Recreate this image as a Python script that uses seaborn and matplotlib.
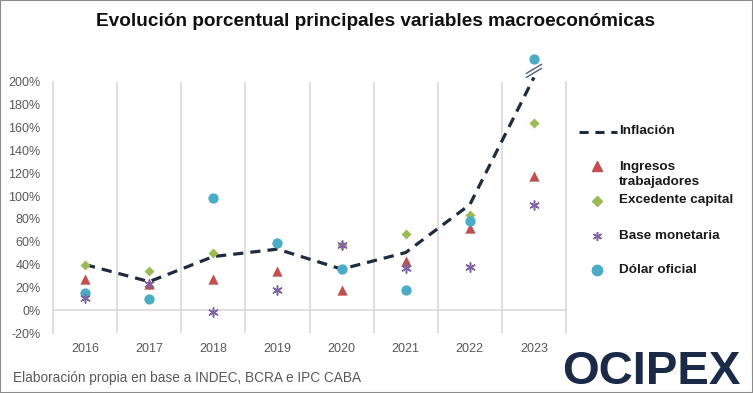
import matplotlib
matplotlib.use("Agg")
import matplotlib.pyplot as plt
import seaborn as sns
import pandas as pd
from matplotlib.lines import Line2D
from matplotlib.patches import Rectangle

years = ["2016", "2017", "2018", "2019", "2020", "2021", "2022", "2023"]
inflacion = [40, 25, 47, 53.5, 36, 50.5, 92.5, 204]
ingresos = [27, 23, 27, 34, 18, 43, 72, 117.5]
excedente = [40, 34, 50.5, 59, 57, 67, 83, 164.5]
base_monetaria = [11, 23, -2, 18, 57, 37, 38, 92.5]
dolar_oficial = [15, 10, 98, 59, 36.5, 18, 78, 220]
y_ticks = [-20, 0, 20, 40, 60, 80, 100, 120, 140, 160, 180, 200]

title = "Evolución porcentual principales variables macroeconómicas"
source = "Elaboración propia en base a INDEC, BCRA e IPC CABA"
legend_labels = ["Inflación", "Ingresos\ntrabajadores", "Excedente capital",
                 "Base monetaria", "Dólar oficial"]

sns.set_style("white")
plt.rcParams["font.family"] = ["Liberation Sans", "DejaVu Sans"]

C_INF = "#1f2b3e"
C_ING = "#c0504d"
C_EXC = "#9bbb59"
C_BAS = "#8064a2"
C_DOL = "#4bacc6"
GRID = "#dcdcdc"
TXT = "#595959"

pos = list(range(len(years)))
df = pd.DataFrame({
    "pos": pos,
    "inflacion": inflacion,
    "ingresos": ingresos,
    "excedente": excedente,
    "base": base_monetaria,
    "dolar": dolar_oficial,
})

W, H = 753, 393
fig = plt.figure(figsize=(W / 100, H / 100), dpi=100)
ax = fig.add_axes([53 / W, 1 - 333 / H, (566 - 53) / W, (333 - 82) / H])

ax.set_xlim(-0.5, len(years) - 0.5)
ax.set_ylim(-20, 200)

# vertical category gridlines
ax.set_xticks([p + 0.5 for p in pos[:-1]], minor=True)
ax.grid(which="minor", axis="x", color=GRID, lw=1.3)
ax.axhline(0, color=GRID, lw=1.3, zorder=1)
for s in ["top", "bottom"]:
    ax.spines[s].set_visible(False)
for s in ["left", "right"]:
    ax.spines[s].set_color(GRID)
    ax.spines[s].set_linewidth(1.3)

sns.lineplot(data=df, x="pos", y="inflacion", ax=ax, color=C_INF, lw=2.3,
             legend=False, zorder=3, clip_on=False)
ax.lines[-1].set_dashes([3.2, 2.2])

kw = dict(ax=ax, legend=False, zorder=4, clip_on=False, linewidth=0)
sns.scatterplot(data=df, x="pos", y="ingresos", marker="^", s=55, color=C_ING, **kw)
sns.scatterplot(data=df, x="pos", y="excedente", marker="D", s=26, color=C_EXC, **kw)
sns.scatterplot(data=df, x="pos", y="base", marker=(6, 2, 0), s=45, color=C_BAS,
                ax=ax, legend=False, zorder=5, clip_on=False, linewidth=1.1, edgecolor=C_BAS)
sns.scatterplot(data=df, x="pos", y="dolar", marker="o", s=55, color=C_DOL, **kw)

# axis break marks on 2023
xb = pos[-1]
for dy in (0, 3.5):
    ax.plot([xb - 0.12, xb + 0.12], [204 + dy, 212 + dy], color="#5a6a80", lw=1.1,
            clip_on=False, zorder=6)

ax.set_xticks(pos)
ax.set_xticklabels(years)
ax.set_yticks(y_ticks)
ax.set_yticklabels([f"{v}%" for v in y_ticks])
ax.tick_params(axis="both", length=0, labelsize=9, labelcolor=TXT)
ax.tick_params(axis="x", pad=7)
ax.tick_params(axis="y", pad=9)
ax.set_xlabel("")
ax.set_ylabel("")


# manual legend (figure pixel layout)
def fx(x):
    return x / W


def fy(y):
    return 1 - y / H


leg_rows = [131.5, 166, 200.5, 236, 270]
fig.add_artist(Line2D([fx(579), fx(617)], [fy(leg_rows[0])] * 2, color=C_INF, lw=2.2,
                      dashes=[3, 2.2], transform=fig.transFigure))
leg_markers = [("^", C_ING, 7, 0), ("D", C_EXC, 5, 0), ((6, 2, 0), C_BAS, 6.5, 1.1),
               ("o", C_DOL, 7.5, 0)]
for (m, c, ms, mew), yy in zip(leg_markers, leg_rows[1:]):
    fig.add_artist(Line2D([fx(597)], [fy(yy)], marker=m, color=c, lw=0, markersize=ms,
                          markeredgewidth=mew if mew else None, transform=fig.transFigure))
for lab, yy in zip(legend_labels, leg_rows):
    if "\n" in lab:
        fig.text(fx(619), fy(yy - 5), lab, ha="left", va="top",
                 fontsize=9.7, fontweight="bold", color="#1a1a1a", linespacing=1.3)
    else:
        fig.text(fx(619), fy(yy), lab, ha="left", va="center",
                 fontsize=9.7, fontweight="bold", color="#1a1a1a")

fig.text(376 / W, 1 - 21 / H, title, ha="center", va="center",
         fontsize=13.7, fontweight="bold", color="#111111")
fig.text(13 / W, 1 - 378 / H, source, ha="left", va="center",
         fontsize=9.8, color=TXT)
fig.text(741 / W, 1 - 372 / H, "OCIPEX", ha="right", va="center",
         fontsize=34, fontweight="bold", color="#1b2a47")

fig.patches.append(Rectangle((0, 0), 1, 1, transform=fig.transFigure, fill=False,
                             edgecolor="#8c8c8c", lw=1.5, zorder=10))

fig.savefig("out.png", dpi=100)
